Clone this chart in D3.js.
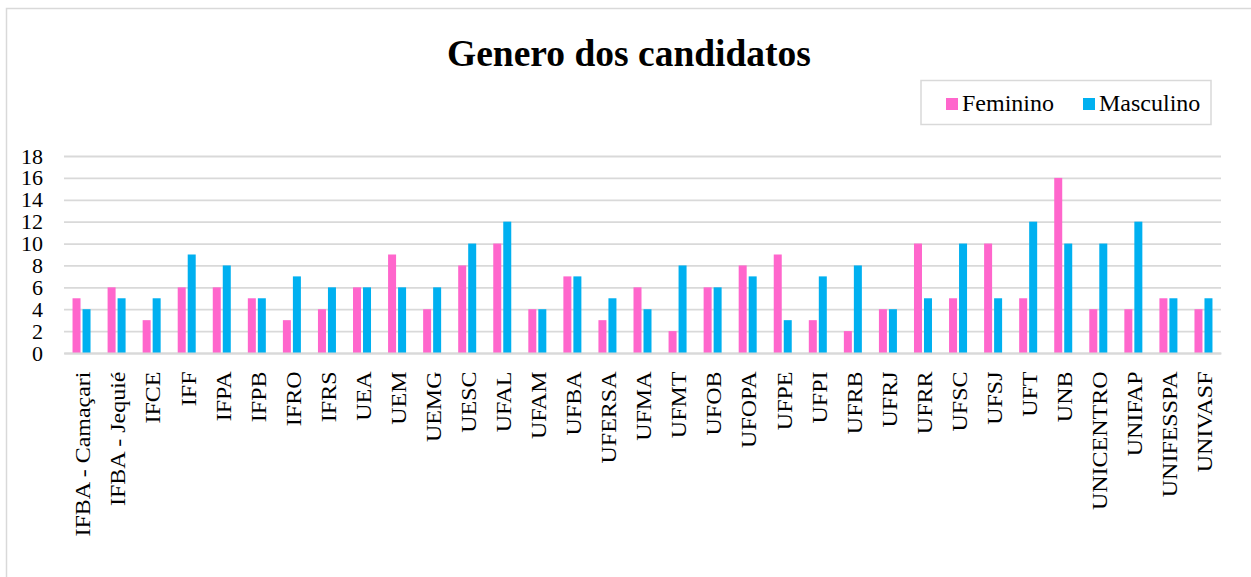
<!DOCTYPE html>
<html>
<head>
<meta charset="utf-8">
<script src="https://cdn.jsdelivr.net/npm/d3@7"></script>
<style>
  body { margin: 0; background: #fff; }
  svg { display: block; font-family: "Liberation Serif", "Times New Roman", serif; }
</style>
</head>
<body>
<div id="chart"></div>
<script>
// --------------------------------------------
// DONNEES
// --------------------------------------------
const categories = [
  "IFBA - Camaçari", "IFBA - Jequié", "IFCE", "IFF", "IFPA", "IFPB", "IFRO",
  "IFRS", "UEA", "UEM", "UEMG", "UESC", "UFAL", "UFAM", "UFBA", "UFERSA",
  "UFMA", "UFMT", "UFOB", "UFOPA", "UFPE", "UFPI", "UFRB", "UFRJ", "UFRR",
  "UFSC", "UFSJ", "UFT", "UNB", "UNICENTRO", "UNIFAP", "UNIFESSPA", "UNIVASF",
];
const feminino = [5, 6, 3, 6, 6, 5, 3, 4, 6, 9, 4, 8, 10, 4, 7, 3, 6, 2, 6, 8, 9, 3, 2, 4, 10, 5, 10, 5, 16, 4, 4, 5, 4];
const masculino = [4, 5, 5, 9, 8, 5, 7, 6, 6, 6, 6, 10, 12, 4, 7, 5, 4, 8, 6, 7, 3, 7, 8, 4, 5, 10, 5, 12, 10, 10, 12, 5, 5];
const series = ["Feminino", "Masculino"];
const yTicks = [0, 2, 4, 6, 8, 10, 12, 14, 16, 18];

const colors = { Feminino: "#ff66cc", Masculino: "#00b0f0" };

const width = 1251;
const height = 577;
const plot = { left: 64, right: 1221, top: 156, bottom: 353 };

const svg = d3.select("#chart").append("svg")
  .attr("width", width)
  .attr("height", height);

// cadre du graphique
svg.append("rect")
  .attr("x", 6.5).attr("y", 8.5)
  .attr("width", 1300).attr("height", 700)
  .attr("fill", "none")
  .attr("stroke", "#d9d9d9")
  .attr("stroke-width", 1.5);

// titre
svg.append("text")
  .attr("x", 629).attr("y", 66)
  .attr("text-anchor", "middle")
  .attr("font-size", 37.5)
  .attr("font-weight", "bold")
  .text("Genero dos candidatos");

// --------------------------------------------
// ECHELLES
// --------------------------------------------
const x0 = d3.scaleBand().domain(categories).range([plot.left, plot.right]);
const pairW = 18;
const x1 = d3.scaleBand().domain(series)
  .range([(x0.bandwidth() - pairW) / 2, (x0.bandwidth() + pairW) / 2])
  .paddingInner(0.2);
const y = d3.scaleLinear().domain([0, 18]).range([plot.bottom, plot.top]);

// grille
const grid = svg.append("g")
  .attr("transform", `translate(${plot.left},0)`)
  .call(d3.axisLeft(y).tickValues(yTicks).tickSize(-(plot.right - plot.left)).tickFormat(""));
grid.select(".domain").remove();
grid.selectAll(".tick line").attr("stroke", "#d9d9d9").attr("stroke-width", 1.8);

// axe y (libelles)
const yAxis = svg.append("g")
  .attr("transform", `translate(${plot.left},0)`)
  .call(d3.axisLeft(y).tickValues(yTicks).tickSize(0).tickPadding(21));
yAxis.select(".domain").remove();
yAxis.selectAll("text")
  .attr("font-family", "Liberation Serif")
  .attr("font-size", 22)
  .attr("fill", "#000");

// barres
const rows = categories.map((c, i) => ({ cat: c, Feminino: feminino[i], Masculino: masculino[i] }));
const groups = svg.append("g").selectAll("g")
  .data(rows)
  .enter()
  .append("g")
  .attr("transform", (d) => `translate(${x0(d.cat)},0)`);

groups.selectAll("rect")
  .data((d) => series.map((s) => ({ key: s, value: d[s] })))
  .enter()
  .append("rect")
  .attr("x", (d) => x1(d.key))
  .attr("width", x1.bandwidth())
  .attr("y", (d) => y(d.value))
  .attr("height", (d) => y(0) - y(d.value))
  .attr("fill", (d) => colors[d.key]);

// axe x (libelles verticaux)
const xAxis = svg.append("g")
  .attr("transform", `translate(0,${plot.bottom})`)
  .call(d3.axisBottom(x0).tickSize(0).tickPadding(0));
xAxis.select(".domain").attr("stroke", "#d9d9d9").attr("stroke-width", 1.8);
xAxis.selectAll("text")
  .attr("font-family", "Liberation Serif")
  .attr("font-size", 22)
  .attr("fill", "#000")
  .attr("text-anchor", "end")
  .attr("transform", "rotate(-90) scale(1.09,1)")
  .attr("x", -17)
  .attr("y", 0)
  .attr("dy", "0.4em");

// legende
const legend = svg.append("g");
legend.append("rect")
  .attr("x", 921).attr("y", 80.5)
  .attr("width", 290).attr("height", 44)
  .attr("fill", "#fff")
  .attr("stroke", "#d9d9d9")
  .attr("stroke-width", 1.5);

const legendX = { Feminino: 946, Masculino: 1083 };
series.forEach((s) => {
  legend.append("rect")
    .attr("x", legendX[s]).attr("y", 98)
    .attr("width", 12).attr("height", 12)
    .attr("fill", colors[s]);
  legend.append("text")
    .attr("x", legendX[s] + 16).attr("y", 111)
    .attr("font-size", 24)
    .text(s);
});
</script>
</body>
</html>
